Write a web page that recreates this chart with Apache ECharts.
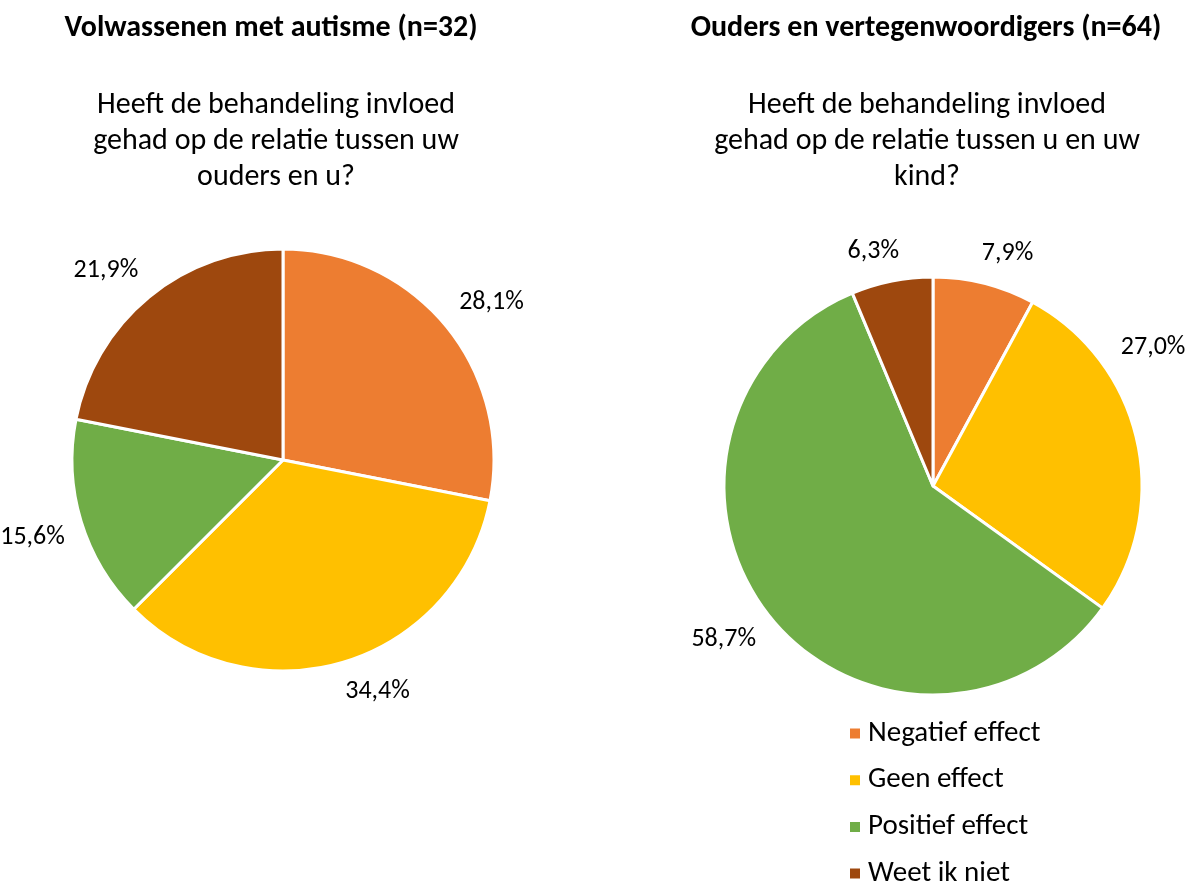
<!DOCTYPE html>
<html>
<head>
<meta charset="utf-8">
<script src="https://cdn.jsdelivr.net/npm/echarts@6/dist/echarts.min.js"></script>
<style>
html,body{margin:0;padding:0;background:#fff;}
#chart{width:1192px;height:884px;}
</style>
</head>
<body>
<div id="chart"></div>
<script>
// ---- data ----
const categories = ['Negatief effect', 'Geen effect', 'Positief effect', 'Weet ik niet'];
const adultValues = [28.1, 34.4, 15.6, 21.9];
const parentValues = [7.9, 27.0, 58.7, 6.3];
const adultTitle = 'Volwassenen met autisme (n=32)';
const adultQuestion = 'Heeft de behandeling invloed\ngehad op de relatie tussen uw\nouders en u?';
const parentTitle = 'Ouders en vertegenwoordigers (n=64)';
const parentQuestion = 'Heeft de behandeling invloed\ngehad op de relatie tussen u en uw\nkind?';

// ---- styling ----
const FONT = 'Carlito, Lato, "Noto Sans", sans-serif';
const W = 1192;
const palette = ['#ED7D31', '#FFC000', '#70AD47', '#9E480E'];

const chart = echarts.init(document.getElementById('chart'), null, { renderer: 'canvas' });

function makeLabelLayout(values, cx, cy, r) {
  const total = values.reduce((a, b) => a + b, 0);
  const gap = 17;
  const clamp = v => Math.max(-1, Math.min(1, v));
  return function (params) {
    const i = params.dataIndex;
    let acc = 0;
    for (let k = 0; k < i; k++) acc += values[k];
    const start = acc / total * 2 * Math.PI;
    let a = (acc + values[i] / 2) / total * 2 * Math.PI;
    const w = params.labelRect.width, h = params.labelRect.height;
    const place = ang => {
      const dx = Math.sin(ang), dy = -Math.cos(ang);
      return [cx + dx * (r + gap) + clamp(3 * dx) * w / 2,
              cy + dy * (r + gap) + clamp(3 * dy) * h / 2];
    };
    let p = place(a);
    while (p[0] + w / 2 > W - 6 && a > start) { a -= 0.005; p = place(a); }
    return { x: p[0], y: p[1], align: 'center', verticalAlign: 'middle' };
  };
}

function pieSeries(name, values, cx, cy, r) {
  return {
    name: name,
    type: 'pie',
    center: [cx, cy],
    radius: [0, r],
    startAngle: 90,
    clockwise: true,
    avoidLabelOverlap: false,
    itemStyle: { borderColor: '#ffffff', borderWidth: 3 },
    label: {
      show: true,
      position: 'outside',
      formatter: p => p.value.toFixed(1).replace('.', ',') + '%',
      fontFamily: FONT,
      fontSize: 26,
      color: '#000000'
    },
    labelLine: { show: false },
    labelLayout: makeLabelLayout(values, cx, cy, r),
    emphasis: { disabled: true },
    data: categories.map((c, i) => ({ name: c, value: values[i] }))
  };
}

const titleText = { fontFamily: FONT, fontSize: 30, fontWeight: 'bold', color: '#000', lineHeight: 30 };
const questionText = { fontFamily: FONT, fontSize: 30, fontWeight: 'normal', color: '#000', lineHeight: 36 };

const option = {
  animation: false,
  color: palette,
  title: [
    { text: adultTitle, left: 271, top: 13, textAlign: 'center', padding: 0, textStyle: titleText },
    { text: adultQuestion, left: 276, top: 87, textAlign: 'center', padding: 0, textStyle: questionText },
    { text: parentTitle, left: 926, top: 13, textAlign: 'center', padding: 0, textStyle: titleText },
    { text: parentQuestion, left: 927, top: 87, textAlign: 'center', padding: 0, textStyle: questionText }
  ],
  legend: {
    type: 'plain',
    orient: 'vertical',
    left: 848,
    top: 719,
    height: 260,
    padding: 0,
    itemGap: 17.7,
    itemWidth: 12,
    itemHeight: 12,
    icon: 'rect',
    selectedMode: false,
    data: categories,
    textStyle: { fontFamily: FONT, fontSize: 29, color: '#000', padding: [0, 0, 0, 2] }
  },
  series: [
    pieSeries('Volwassenen', adultValues, 283, 460, 211),
    pieSeries('Ouders', parentValues, 933, 486, 209)
  ]
};

chart.setOption(option);
</script>
</body>
</html>
